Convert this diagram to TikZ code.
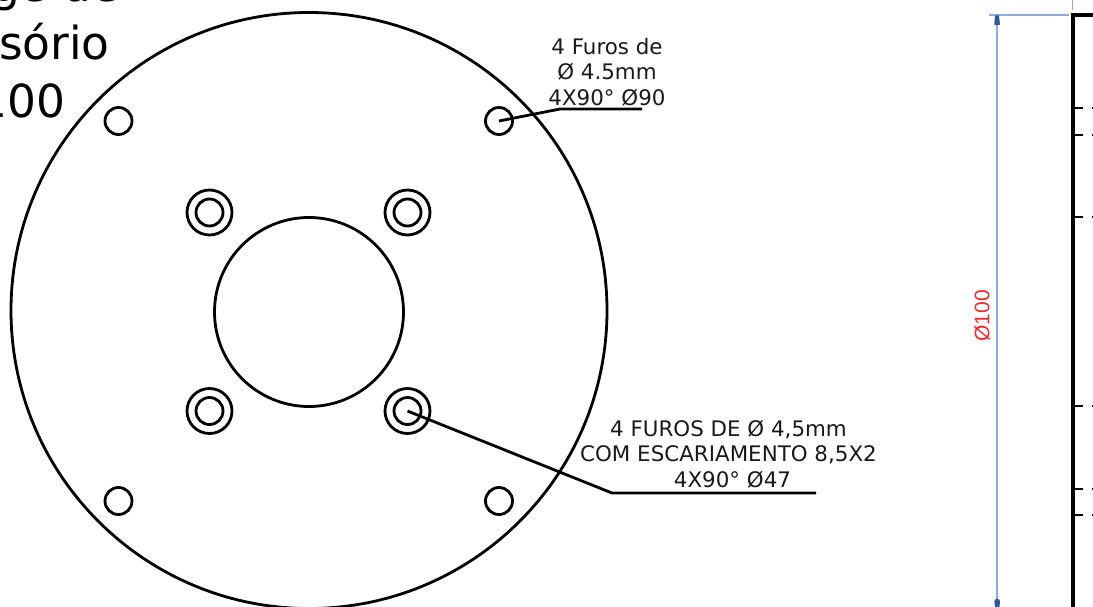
\documentclass[tikz,border=0pt]{standalone}
\usepackage{fontspec}
\setmainfont{DejaVu Sans}
\newfontfamily\dimfont{Liberation Sans}
\usetikzlibrary{arrows.meta}
\definecolor{dimblue}{HTML}{8FAADC}
\definecolor{tipblue}{HTML}{2F55A5}
\definecolor{dimred}{HTML}{EE2A30}
\tikzset{
  x=1pt,y=-1pt,
  part/.style={draw=black,line width=3.4pt},
  hole/.style={circle,draw=black,line width=2.8pt,minimum size=27pt,inner sep=0pt,outer sep=0pt},
  cbore/.style={circle,draw=black,line width=2.8pt,minimum size=45pt,inner sep=0pt,outer sep=0pt},
  leader/.style={draw=black,line width=2.8pt},
  note/.style={font=\fontsize{21.4pt}{25.4pt}\selectfont,align=center,inner sep=0pt,text=black!90},
  title/.style={font=\fontsize{45.5pt}{46pt}\selectfont,anchor=base east,inner sep=0pt},
  dimline/.style={draw=dimblue,line width=1.3pt},
  tick/.style={draw=black,line width=1.4pt},
}
\begin{document}
\begin{tikzpicture}
\useasboundingbox[clip] (0,0) rectangle (1093,607);
% title fragments
\node[title] (t1) at (119.5,2) {ge de};
\node[title] (t2) at (110,60) {sório};
\node[title] (t3) at (65.5,118) {100};
% flange
\node[circle,draw=black,line width=2.8pt,minimum size=596pt,inner sep=0pt] (outer) at (309,310.5) {};
\node[circle,draw=black,line width=2.8pt,minimum size=189pt,inner sep=0pt] (bore) at (309,312) {};
% plain holes
\node[hole] (h1) at (118.5,121) {};
\node[hole] (h2) at (499,121) {};
\node[hole] (h3) at (118.5,501) {};
\node[hole] (h4) at (499,501) {};
% counterbored holes
\foreach \n/\px/\py in {a/209.5/212.5,b/407.5/212.5,c/209.5/411,d/407.5/411}{
  \node[cbore] (c\n) at (\px,\py) {};
  \node[hole] (i\n) at (\px,\py) {};
}
% notes
\node[note] (n1) at (607,72) {4 Furos de\\Ø 4.5mm\\4X90° Ø90};
\node[note] (n2) at (728.5,454) {4 FUROS DE Ø 4,5mm\\COM ESCARIAMENTO 8,5X2\\\hspace*{8pt}4X90° Ø47};
\coordinate (e1) at (560,109);
\coordinate (f1) at (642,109);
\coordinate (e2) at (612,493);
\coordinate (f2) at (816,493);
\draw[leader] (h2.center) -- (e1) -- (f1);
\draw[leader] (id.center) -- (e2) -- (f2);
% side view
\coordinate (s0) at (1073,15);
\coordinate (s1) at (1073,607);
\coordinate (s2) at (1093,15);
\draw[part] (s2) -- (s0) -- (s1);
\foreach \y in {108,135,217,406,489,515}{
  \coordinate (ta) at (1073,\y);
  \coordinate (tb) at (1083,\y);
  \coordinate (tc) at (1092,\y);
  \coordinate (td) at (1093,\y);
  \draw[tick] (ta) -- (tb);
  \draw[tick] (tc) -- (td);
}
% dimension
\coordinate (d1) at (997,15);
\coordinate (d2) at (997,604);
\coordinate (x1) at (989,15);
\coordinate (x2) at (1069,15);
\coordinate (x3) at (1072.5,0);
\coordinate (x4) at (1072.5,10);
\draw[dimline] (x1) -- (x2);
\draw[dimline] (x3) -- (x4);
\draw[dimline] (d1) -- (d2);
\fill[tipblue] (994.3,25) -- (995,15.5) -- (999,15.5) -- (1000,25) -- cycle;
\fill[tipblue] (994.3,601) -- (995,607) -- (999.5,607) -- (1000,601) -- (998.5,599) -- (995.8,599) -- cycle;
\node[rotate=90,text=dimred,font=\dimfont\fontsize{21pt}{21pt}\selectfont,inner sep=0pt] (dt) at (982,316) {Ø100};
\end{tikzpicture}
\end{document}
